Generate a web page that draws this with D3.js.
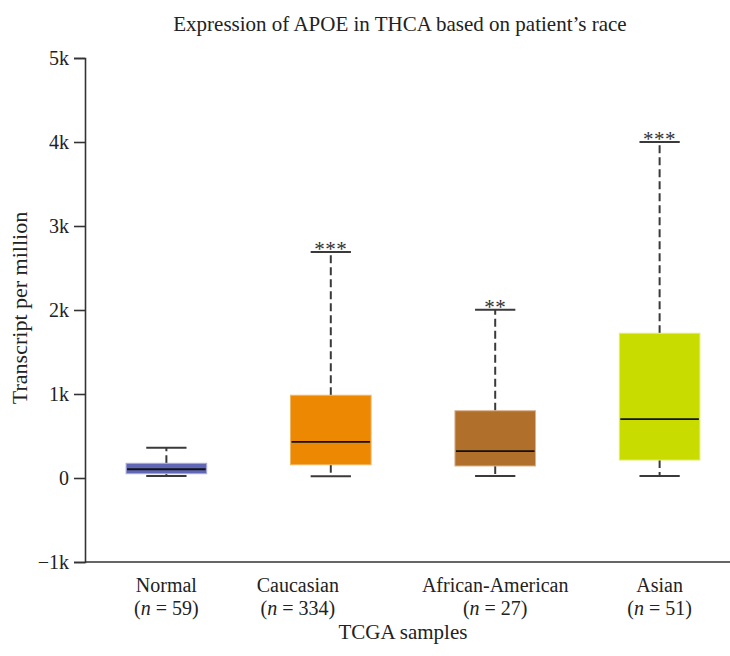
<!DOCTYPE html>
<html>
<head>
<meta charset="utf-8">
<script src="https://cdn.jsdelivr.net/npm/d3@7"></script>
<style>
  html, body { margin: 0; padding: 0; background: #fff; }
  svg { display: block; font-family: "Liberation Serif", "Times New Roman", serif; }
</style>
</head>
<body>
<svg id="chart" width="730" height="656"></svg>
<script>
// APOE expression (TPM) in THCA grouped by patient race
const categories = ["Normal", "Caucasian", "African-American", "Asian"];
const sampleCounts = [59, 334, 27, 51];
const whiskerLow = [24, 20, 24, 24];
const quartile1 = [51, 158, 143, 214];
const medians = [104, 429, 321, 702];
const quartile3 = [175, 985, 801, 1723];
const whiskerHigh = [361, 2690, 2004, 4000];
const significance = ["", "***", "**", "***"];
const yTicks = [-1000, 0, 1000, 2000, 3000, 4000, 5000];

const boxes = categories.map((c, i) => ({
  name: c, n: sampleCounts[i], lo: whiskerLow[i], q1: quartile1[i],
  med: medians[i], q3: quartile3[i], hi: whiskerHigh[i], sig: significance[i]
}));

const fills = ["#6067b6", "#ed8802", "#b06f2b", "#c8dc00"];
const edges = ["#a9acdb", "#f3b45f", "#d8b491", "#dfeb7a"];

const svg = d3.select("#chart");
const left = 85, bottom = 562;

const x = d3.scaleBand().domain(categories).range([left, 741])
  .paddingInner(0.51).paddingOuter(0.25);
const y = d3.scaleLinear().domain([-1000, 5000]).range([562, 58]);
const cx = name => x(name) + x.bandwidth() / 2;

// y axis
const yAxis = d3.axisLeft(y).tickValues(yTicks).tickSize(11).tickPadding(5)
  .tickFormat(d => d === 0 ? "0" : (d < 0 ? "\u2212" : "") + Math.abs(d / 1000) + "k");
const gy = svg.append("g").attr("transform", `translate(${left},0)`).call(yAxis);
gy.select(".domain").attr("stroke", "#333").attr("stroke-width", 1.6);
gy.selectAll(".tick line").attr("stroke", "#333").attr("stroke-width", 1.6);
gy.selectAll(".tick text").attr("fill", "#222").style("font-size", "20px")
  .style("font-family", "Liberation Serif, serif");

// x axis baseline
svg.append("line").attr("x1", left).attr("x2", 730)
  .attr("y1", bottom).attr("y2", bottom)
  .attr("stroke", "#333").attr("stroke-width", 1.6);

const capHalf = x.bandwidth() / 4;

const g = svg.append("g");
const bx = g.selectAll("g.box").data(boxes).join("g").attr("class", "box")
  .attr("transform", d => `translate(${cx(d.name)},0)`);

// whiskers (dashed)
bx.append("line").attr("x1", 0).attr("x2", 0)
  .attr("y1", d => y(d.q3)).attr("y2", d => y(d.hi))
  .attr("stroke", "#3a3a3a").attr("stroke-width", 2).attr("stroke-dasharray", "8,4");
bx.append("line").attr("x1", 0).attr("x2", 0)
  .attr("y1", d => y(d.q1)).attr("y2", d => y(d.lo))
  .attr("stroke", "#3a3a3a").attr("stroke-width", 2).attr("stroke-dasharray", "8,4");

// whisker caps
bx.append("line").attr("x1", -capHalf).attr("x2", capHalf)
  .attr("y1", d => y(d.hi)).attr("y2", d => y(d.hi))
  .attr("stroke", "#3a3a3a").attr("stroke-width", 2);
bx.append("line").attr("x1", -capHalf).attr("x2", capHalf)
  .attr("y1", d => y(d.lo)).attr("y2", d => y(d.lo))
  .attr("stroke", "#3a3a3a").attr("stroke-width", 2);

// boxes
bx.append("rect")
  .attr("x", -x.bandwidth() / 2).attr("width", x.bandwidth())
  .attr("y", d => y(d.q3)).attr("height", d => y(d.q1) - y(d.q3))
  .attr("fill", (d, i) => fills[i]).attr("stroke", (d, i) => edges[i]).attr("stroke-width", 1);

// medians
bx.append("line").attr("x1", -x.bandwidth() / 2 + 1).attr("x2", x.bandwidth() / 2 - 1)
  .attr("y1", d => y(d.med)).attr("y2", d => y(d.med))
  .attr("stroke", "#111").attr("stroke-width", 1.8);

// significance stars
bx.append("text").attr("x", 0).attr("y", d => y(d.hi) + 4)
  .attr("text-anchor", "middle").attr("fill", "#333")
  .style("font-size", "21px").style("letter-spacing", "0.5px")
  .text(d => d.sig);

// category labels: name on the first line, sample count below
const labelShift = { "Caucasian": -33 };
const labelX = d => cx(d.name) + (labelShift[d.name] || 0);
const labels = svg.append("g").attr("fill", "#222").style("font-size", "20px")
  .attr("text-anchor", "middle");
labels.selectAll("text.name").data(boxes).join("text").attr("class", "name")
  .attr("x", labelX).attr("y", 592).text(d => d.name);
const counts = labels.selectAll("text.count").data(boxes).join("text").attr("class", "count")
  .attr("x", labelX).attr("y", 615);
counts.append("tspan").text("(");
counts.append("tspan").style("font-style", "italic").text("n");
counts.append("tspan").text(d => " = " + d.n + ")");

// axis titles
svg.append("text").attr("x", 403).attr("y", 639).attr("text-anchor", "middle")
  .attr("fill", "#222").style("font-size", "21px").text("TCGA samples");
svg.append("text").attr("transform", "translate(27,308) rotate(-90)")
  .attr("text-anchor", "middle").attr("fill", "#222").style("font-size", "22px")
  .text("Transcript per million");

// title
svg.append("text").attr("x", 400).attr("y", 31).attr("text-anchor", "middle")
  .attr("fill", "#222").style("font-size", "21px")
  .text("Expression of APOE in THCA based on patient\u2019s race");
</script>
</body>
</html>
